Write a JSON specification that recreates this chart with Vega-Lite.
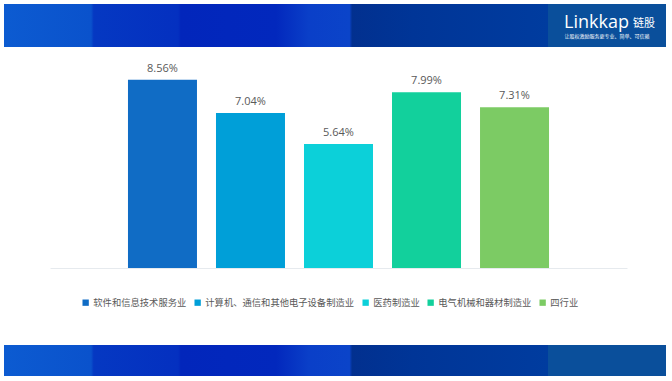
{
  "$schema": "https://vega.github.io/schema/vega-lite/v6.json",
  "padding": {"left": 4, "top": 4, "right": 0, "bottom": 0},
  "background": "white",
  "spacing": 0,
  "config": {"view": {"stroke": null}},
  "datasets": {
    "brand": [{"name": "Linkkap", "cn": "链股", "slogan": "让股权激励服务更专业、简单、可信赖"}],
    "growth": [
      {"industry": "软件和信息技术服务业", "value": 0.0856},
      {"industry": "计算机、通信和其他电子设备制造业", "value": 0.0704},
      {"industry": "医药制造业", "value": 0.0564},
      {"industry": "电气机械和器材制造业", "value": 0.0799},
      {"industry": "四行业", "value": 0.0731}
    ]
  },
  "vconcat": [
    {
      "spacing": 0,
      "hconcat": [
        {
          "width": 544, "height": 43,
          "data": {"name": "brand"},
          "mark": {"type": "rect", "color": {"gradient": "linear", "x1": 0, "x2": 1, "y1": 0, "y2": 0, "stops": [
            {"offset": 0, "color": "#0c5bd1"},
            {"offset": 0.16, "color": "#0a52cc"},
            {"offset": 0.165, "color": "#0538c2"},
            {"offset": 0.32, "color": "#0430c0"},
            {"offset": 0.325, "color": "#0226bb"},
            {"offset": 0.5, "color": "#0228bd"},
            {"offset": 0.56, "color": "#0a3fc8"},
            {"offset": 0.635, "color": "#0b44c9"},
            {"offset": 0.64, "color": "#02308f"},
            {"offset": 0.75, "color": "#003597"},
            {"offset": 1, "color": "#003c9f"}
          ]}},
          "encoding": {}
        },
        {
          "width": 118, "height": 43,
          "data": {"name": "brand"},
          "layer": [
            {"mark": {"type": "rect", "color": "#0a4f9b"}, "encoding": {}},
            {"mark": {"type": "text", "color": "white", "font": "Open Sans", "fontSize": 18, "align": "right", "baseline": "middle", "dx": 22, "dy": -3},
             "encoding": {"text": {"field": "name"}}},
            {"mark": {"type": "text", "color": "white", "font": "Noto Sans CJK SC", "fontSize": 11, "align": "left", "baseline": "middle", "dx": 26, "dy": -2},
             "encoding": {"text": {"field": "cn"}}},
            {"mark": {"type": "text", "color": "white", "font": "Noto Sans CJK SC", "fontSize": 5, "baseline": "middle", "dy": 10},
             "encoding": {"text": {"field": "slogan"}}}
          ]
        }
      ]
    },
    {
      "spacing": 0,
      "hconcat": [
        {"width": 46, "height": 298, "data": {"name": "brand"}, "mark": {"type": "point", "opacity": 0}, "encoding": {}},
        {
          "width": 577, "height": 298,
          "data": {"name": "growth"},
          "layer": [
            {
              "mark": {"type": "bar"},
              "encoding": {
                "x": {"field": "industry", "type": "nominal", "sort": null,
                      "axis": {"labels": false, "ticks": false, "title": null, "domainColor": "#e6eaee", "offset": -77},
                      "scale": {"paddingInner": 0.216, "paddingOuter": 0.886}},
                "y": {"field": "value", "type": "quantitative", "axis": null,
                      "scale": {"domain": [-0.035, 0.10045], "nice": false}},
                "color": {"field": "industry", "type": "nominal",
                  "scale": {"domain": ["软件和信息技术服务业", "计算机、通信和其他电子设备制造业", "医药制造业", "电气机械和器材制造业", "四行业"],
                            "range": ["#106cc5", "#009fd8", "#0cd0d9", "#12d09c", "#7ccb64"]},
                  "legend": {"title": null, "orient": "none", "legendX": 77, "legendY": 294, "direction": "horizontal", "columns": 5,
                             "symbolType": "square", "symbolSize": 40, "symbolStrokeWidth": 0, "labelFontSize": 9.3,
                             "labelFont": "Noto Sans CJK SC", "labelColor": "#595959", "columnPadding": 6, "labelOffset": 3, "labelLimit": 0}}
              }
            },
            {
              "mark": {"type": "text", "font": "Open Sans", "fontSize": 11, "color": "#595959", "baseline": "alphabetic", "dy": -8},
              "encoding": {
                "x": {"field": "industry", "type": "nominal", "sort": null},
                "y": {"field": "value", "type": "quantitative"},
                "text": {"field": "value", "type": "quantitative", "format": ".2%"}
              }
            }
          ]
        }
      ]
    },
    {
      "spacing": 0,
      "hconcat": [
        {
          "width": 544, "height": 31,
          "data": {"name": "brand"},
          "mark": {"type": "rect", "color": {"gradient": "linear", "x1": 0, "x2": 1, "y1": 0, "y2": 0, "stops": [
            {"offset": 0, "color": "#0c5bd1"},
            {"offset": 0.16, "color": "#0a52cc"},
            {"offset": 0.165, "color": "#0538c2"},
            {"offset": 0.32, "color": "#0430c0"},
            {"offset": 0.325, "color": "#0226bb"},
            {"offset": 0.5, "color": "#0228bd"},
            {"offset": 0.56, "color": "#0a3fc8"},
            {"offset": 0.635, "color": "#0b44c9"},
            {"offset": 0.64, "color": "#02308f"},
            {"offset": 0.75, "color": "#003597"},
            {"offset": 1, "color": "#003c9f"}
          ]}},
          "encoding": {}
        },
        {
          "width": 118, "height": 31,
          "data": {"name": "brand"},
          "mark": {"type": "rect", "color": "#0a4f9b"},
          "encoding": {}
        }
      ]
    }
  ]
}
